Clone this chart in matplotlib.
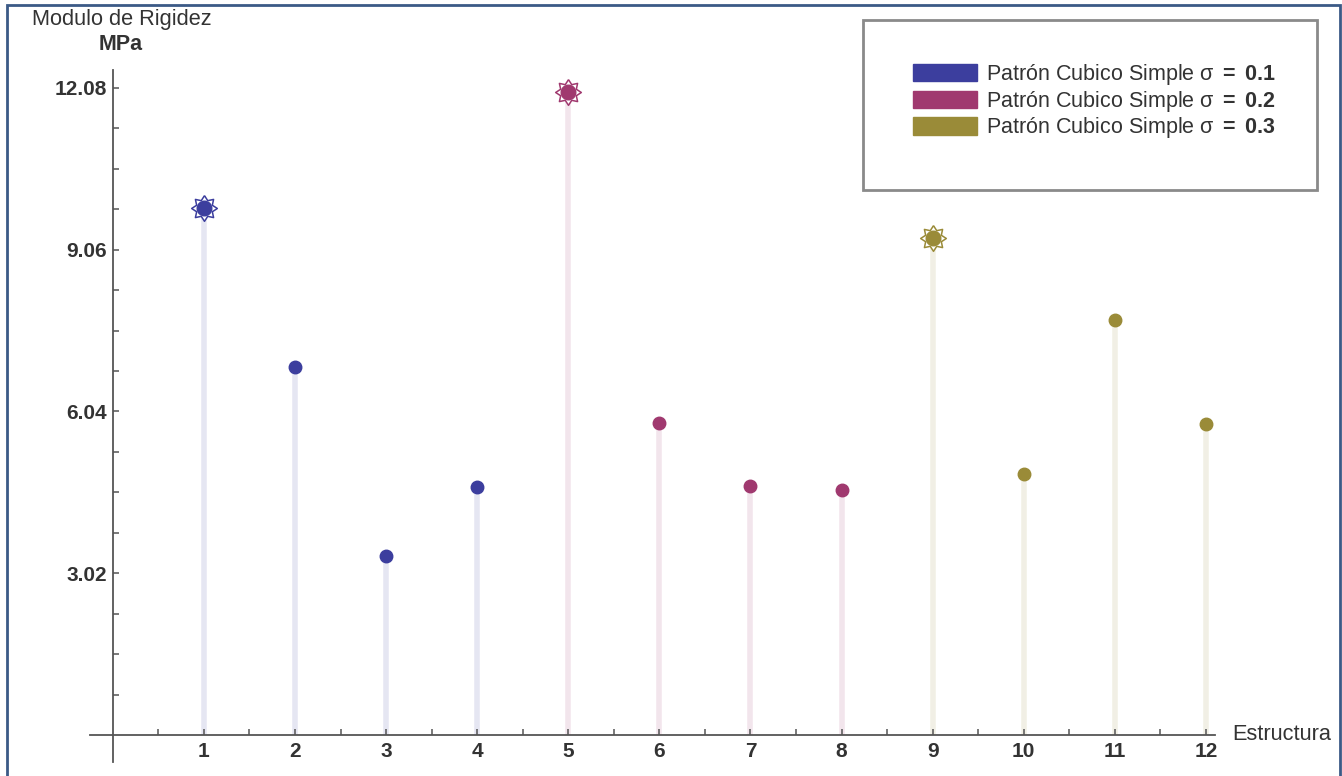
import matplotlib
matplotlib.use("Agg")
import matplotlib.pyplot as plt
from matplotlib.patches import Rectangle, Patch
import numpy as np

plt.rcParams['font.family'] = ['Liberation Sans', 'DejaVu Sans']
plt.rcParams['mathtext.fontset'] = 'custom'
plt.rcParams['mathtext.rm'] = 'Liberation Sans'
plt.rcParams['mathtext.bf'] = 'Liberation Sans:bold'
plt.rcParams['mathtext.it'] = 'Liberation Sans:italic'

# Data
estructura = list(range(1, 13))
modulo = [9.84, 6.87, 3.34, 4.63, 12.00, 5.82, 4.65, 4.57, 9.28, 4.87, 7.75, 5.80]
serie = [0, 0, 0, 0, 1, 1, 1, 1, 2, 2, 2, 2]
destacado = [1, 5, 9]
series_labels = [r"Patrón Cubico Simple σ $\mathbf{=}$ $\mathbf{0.1}$",
                 r"Patrón Cubico Simple σ $\mathbf{=}$ $\mathbf{0.2}$",
                 r"Patrón Cubico Simple σ $\mathbf{=}$ $\mathbf{0.3}$"]
series_colors = ["#3c3e9e", "#a0396f", "#9a8b38"]
y_ticks = [3.02, 6.04, 9.06, 12.08]
x_ticks = list(range(1, 13))

W, H = 1342, 776
fig = plt.figure(figsize=(W / 100, H / 100), dpi=100)
fig.patch.set_facecolor("white")

def fx(px):
    return px / W

def fy(py):
    return 1 - py / H

# Eight-pointed star used for the highest value of each series
ang = np.arange(16) * np.pi / 8 + np.pi / 2
rad = np.where(np.arange(16) % 2 == 0, 1.0, 0.66)
star_verts = list(zip(rad * np.cos(ang), rad * np.sin(ang)))
star_verts.append(star_verts[0])

ax = fig.add_axes([fx(90), fy(762), fx(1215) - fx(90), fy(70) - fy(762)])
ax.set_xlim(-0.25, 12.1)
ax.set_ylim(-0.5, 12.41)

# Stems and markers
for x, v, s in zip(estructura, modulo, serie):
    c = series_colors[s]
    ax.vlines(x, 0, v, color=c, alpha=0.13, lw=4, zorder=1)
    if x in destacado:
        ax.plot(x, v, marker=star_verts, ms=18.5, mfc="white", mec=c, mew=1.1, zorder=3)
        ax.plot(x, v, marker="o", ms=10.5, mfc=c, mec=c, zorder=4)
    else:
        ax.plot(x, v, marker="o", ms=9, mfc=c, mec=c, zorder=3)

# Axes crossing at the origin
for side in ("top", "right"):
    ax.spines[side].set_visible(False)
ax.spines["left"].set_position(("data", 0))
ax.spines["bottom"].set_position(("data", 0))
for side in ("left", "bottom"):
    ax.spines[side].set_color("#555555")
    ax.spines[side].set_linewidth(1.3)

ax.set_xticks(x_ticks)
ax.set_xticklabels([str(t) for t in x_ticks], fontweight="bold", fontsize=15, color="#333333")
ax.set_xticks([t - 0.5 for t in x_ticks], minor=True)
ax.set_yticks(y_ticks)
ax.set_yticklabels([f"{t:.2f}" for t in y_ticks], fontweight="bold", fontsize=15, color="#333333")
step = y_ticks[0] / 4
ax.set_yticks([step * k for k in range(1, 17) if k % 4 != 0], minor=True)

ax.tick_params(axis="x", which="both", direction="in", length=4.5, width=1.1, color="#555555", pad=5)
ax.tick_params(axis="y", which="both", direction="in", length=4.5, width=1.1, color="#555555", pad=4)

# Axis titles
fig.text(fx(32), fy(19), "Modulo de Rigidez", fontsize=15.7, color="#333333", ha="left", va="center")
fig.text(fx(121), fy(44), "MPa", fontsize=15.5, fontweight="bold", color="#333333", ha="center", va="center")
fig.text(fx(1232), fy(735), "Estructura", fontsize=15.7, color="#333333", ha="left", va="center")

# Legend
handles = [Patch(facecolor=c, edgecolor=c) for c in series_colors]
leg = fig.legend(handles, series_labels, loc="upper left",
                 bbox_to_anchor=(fx(913), fy(62)), frameon=False, fontsize=15.5,
                 handlelength=2.95, handleheight=0.85, handletextpad=0.45,
                 labelspacing=0.08, borderaxespad=0, borderpad=0)
for t in leg.get_texts():
    t.set_color("#333333")
fig.patches.append(Rectangle((fx(863), fy(190)), fx(1317) - fx(863), fy(20) - fy(190),
                             transform=fig.transFigure, fill=False, edgecolor="#8a8a8a", lw=2))

# Outer frame
fig.patches.append(Rectangle((fx(7), -0.02), fx(1340) - fx(7), fy(5) + 0.02,
                             transform=fig.transFigure, fill=False, edgecolor="#3b5a86", lw=2))

fig.savefig("out.png", dpi=100)
